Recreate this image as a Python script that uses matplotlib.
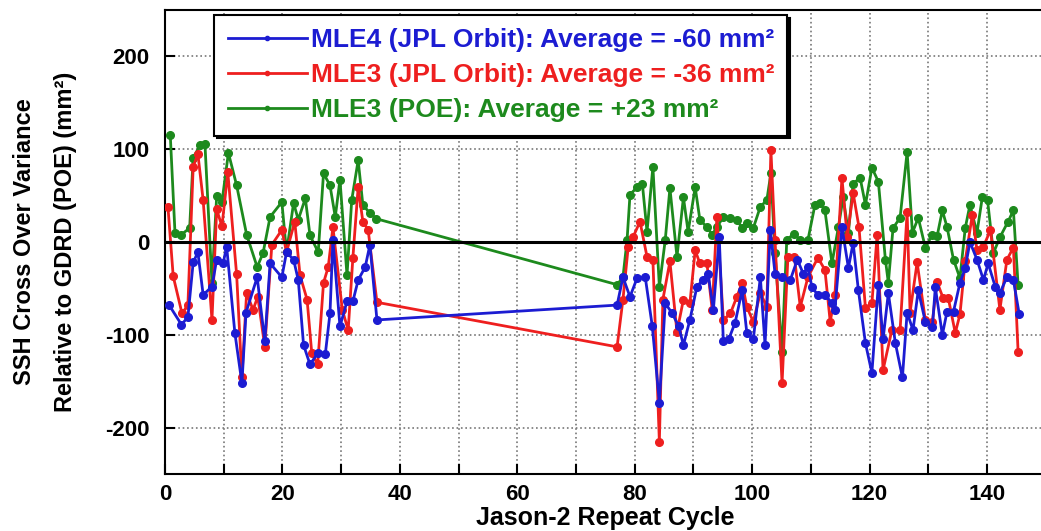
import matplotlib
matplotlib.use('Agg')
import matplotlib.pyplot as plt
from matplotlib.ticker import MultipleLocator

plt.rcParams['font.family'] = ['Liberation Sans', 'DejaVu Sans']
plt.rcParams['font.weight'] = 'bold'
plt.rcParams['axes.unicode_minus'] = False

# MLE4 (JPL orbit)
cyc_mle4 = [0.7, 2.8, 3.9, 4.8, 5.6, 6.5, 8.0, 8.8, 9.9, 10.5, 11.9, 13.1, 13.8, 15.7, 17.0, 17.9,
            19.9, 20.7, 21.9, 22.7, 23.6, 24.7, 26.0, 27.3, 28.1, 28.6, 29.8, 31.0, 32.0, 32.9,
            34.1, 34.9, 36.1,
            77.0, 78.0, 79.2, 80.4, 81.8, 83.0, 84.2, 85.2, 86.4, 87.5, 88.3, 89.4, 90.6, 91.6,
            92.5, 93.4, 94.4, 95.1, 96.0, 97.1, 98.3, 99.1, 100.2, 101.4, 102.2, 103.1, 103.9,
            105.1, 106.5, 107.7, 108.7, 109.5, 110.2, 111.2, 112.4, 113.6, 114.1, 115.3, 116.4,
            117.2, 118.1, 119.3, 120.4, 121.5, 122.3, 123.2, 124.4, 125.6, 126.4, 127.4, 128.3,
            129.5, 130.7, 131.2, 132.4, 133.2, 134.3, 135.4, 136.3, 137.1, 138.3, 139.4, 140.2,
            141.4, 142.2, 143.4, 144.5, 145.5]
mle4 = [-68, -89, -81, -22, -11, -57, -48, -19, -23, -5, -98, -152, -76, -38, -107, -23,
        -38, -11, -19, -41, -111, -132, -120, -121, -77, 2, -91, -64, -64, -41,
        -27, -3, -84,
        -68, -38, -59, -39, -38, -91, -173, -66, -77, -91, -111, -84, -48, -41,
        -34, -73, 5, -107, -105, -87, -52, -98, -105, -38, -111, 13, -34,
        -38, -41, -19, -34, -27, -49, -57, -57, -66, -73, 16, -28,
        -1, -52, -109, -141, -46, -105, -55, -109, -146, -76, -95, -52,
        -86, -92, -49, -100, -75, -75, -44, -28, 0, -19, -41, -23,
        -48, -55, -38, -41, -78]

# MLE3 (JPL orbit)
cyc_mle3 = [0.5, 1.4, 2.9, 3.9, 4.8, 5.6, 6.5, 8.0, 8.8, 9.7, 10.7, 12.2, 13.1, 13.9, 15.0, 15.8,
            17.0, 18.2, 19.9, 20.7, 22.1, 23.0, 24.2, 25.0, 26.0, 27.0, 27.8, 28.6, 30.2, 31.2,
            32.0, 32.9, 33.7, 34.6, 36.1,
            77.0, 78.0, 78.9, 79.7, 80.9, 82.1, 83.1, 84.2, 84.8, 86.0, 87.2, 88.3, 89.4, 90.3,
            91.1, 92.3, 93.2, 94.0, 95.1, 96.3, 97.4, 98.3, 99.1, 100.2, 101.4, 102.5, 103.2,
            103.9, 105.1, 106.1, 107.2, 108.2, 109.5, 111.2, 112.4, 113.3, 114.1, 115.3, 116.2,
            117.2, 118.2, 119.3, 120.4, 121.3, 122.3, 123.8, 125.2, 126.4, 126.9, 128.1, 129.5,
            130.7, 131.5, 132.5, 133.4, 134.6, 135.4, 136.3, 137.5, 138.3, 139.4, 140.6, 142.2,
            143.4, 144.5, 145.3]
mle3 = [38, -37, -77, -68, 81, 95, 45, -84, 35, 17, 75, -35, -146, -55, -73, -59,
        -113, -3, 13, -11, 22, -36, -62, -120, -132, -44, -27, 16, -73, -95,
        -17, 59, 22, 13, -65,
        -113, -62, -5, 5, 22, -16, -19, -215, -62, -21, -97, -62, -66, -9,
        -23, -23, -73, 27, -84, -77, -59, -44, -70, -86, -55, -70, 99,
        2, -152, -16, -16, -70, -38, -17, -30, -86, -57, 69, 5,
        53, 16, -71, -66, 8, -138, -95, -95, 32, -76, -22, -84,
        -86, -43, -60, -60, -98, -78, -20, 29, -9, -5, 13, -73,
        -19, -6, -118]

# MLE3 (POE)
cyc_poe = [0.9, 1.7, 2.8, 4.2, 4.8, 6.0, 6.8, 8.0, 8.8, 9.7, 10.8, 12.2, 13.9, 15.7, 16.7, 17.9,
           19.9, 20.7, 21.9, 22.7, 23.9, 24.7, 26.1, 27.0, 28.1, 29.0, 29.8, 31.0, 31.8, 32.9,
           33.7, 34.9, 36.0,
           77.0, 78.0, 78.7, 79.2, 80.4, 81.3, 82.1, 83.1, 84.2, 85.2, 86.0, 87.2, 88.3, 89.1,
           90.3, 91.1, 92.3, 93.2, 94.0, 95.1, 96.3, 97.4, 98.3, 99.1, 100.2, 101.4, 102.5,
           103.2, 103.9, 105.1, 105.9, 107.1, 108.2, 109.5, 110.7, 111.6, 112.4, 113.6, 114.7,
           115.5, 116.4, 117.2, 118.4, 119.3, 120.4, 121.5, 122.7, 123.2, 124.0, 125.2, 126.4,
           127.3, 128.3, 129.5, 130.7, 131.5, 132.4, 133.2, 134.3, 135.4, 136.3, 137.1, 138.3,
           139.2, 140.1, 141.1, 142.2, 143.6, 144.5, 145.3]
poe = [115, 10, 8, 15, 91, 104, 106, -44, 49, 43, 96, 61, 8, -27, -12, 27,
       43, -11, 42, 24, 47, 7, -11, 74, 61, 27, 67, -36, 45, 88,
       40, 31, 25,
       -46, -38, 2, 51, 59, 63, 11, 81, -48, 2, 58, -16, 48, 11,
       59, 24, 16, 8, 16, 27, 26, 24, 15, 20, 15, 38, 45,
       74, -12, -118, 2, 9, 2, 2, 40, 42, 34, -23, 16,
       48, 10, 63, 69, 40, 80, 65, -19, -44, 15, 26, 97,
       10, 26, -6, 8, 6, 34, 16, -19, -39, 15, 40, 10,
       48, 45, -12, 5, 22, 34, -46]

blue = '#1c1cd2'
red = '#ee1f1f'
green = '#1d8a1d'

fig = plt.figure(figsize=(10.41, 5.31), dpi=100)
ax = fig.add_axes([0.1585, 0.1073, 0.846, 0.874])

ax.plot(cyc_mle4, mle4, '-o', color=blue, lw=2, ms=5.5, zorder=5,
        label='MLE4 (JPL Orbit): Average = -60 mm²')
ax.plot(cyc_mle3, mle3, '-o', color=red, lw=2, ms=5.5, zorder=4,
        label='MLE3 (JPL Orbit): Average = -36 mm²')
ax.plot(cyc_poe, poe, '-o', color=green, lw=2, ms=5.5, zorder=3,
        label='MLE3 (POE): Average = +23 mm²')
ax.axhline(0, color='black', lw=2.2, zorder=6)

ax.set_xlim(0, 150)
ax.set_ylim(-250, 250)
ax.xaxis.set_major_locator(MultipleLocator(20))
ax.xaxis.set_minor_locator(MultipleLocator(10))
ax.yaxis.set_major_locator(MultipleLocator(100))
ax.grid(True, which='both', axis='x', ls=':', color='#777777', lw=1.2)
ax.grid(True, which='major', axis='y', ls=':', color='#777777', lw=1.2)
ax.tick_params(which='both', direction='in', labelsize=16, width=1.5, length=7)
ax.tick_params(axis='x', pad=7)
ax.tick_params(axis='y', pad=11)
for lab in ax.get_xticklabels() + ax.get_yticklabels():
    lab.set_fontweight('bold')
for s in ax.spines.values():
    s.set_linewidth(1.5)

ax.set_xlabel('Jason-2 Repeat Cycle', fontsize=18, fontweight='bold', labelpad=1)
ax.set_ylabel('SSH Cross Over Variance\nRelative to GDRD (POE) (mm²)', fontsize=17,
              fontweight='bold', labelpad=20, linespacing=2.0)

leg = ax.legend(loc='upper left', bbox_to_anchor=(0.047, 1.006), fontsize=19,
                labelcolor='linecolor', frameon=True, fancybox=False, edgecolor='black',
                shadow={'color': 'black', 'alpha': 1}, markerscale=0.55, handlelength=3.0,
                handletextpad=0.15, borderpad=0.5, labelspacing=0.42, borderaxespad=0.3,
                framealpha=1)
leg.get_frame().set_linewidth(1.5)
for t in leg.get_texts():
    t.set_fontweight('bold')
leg.set_zorder(10)

fig.savefig('out.png', dpi=100)
